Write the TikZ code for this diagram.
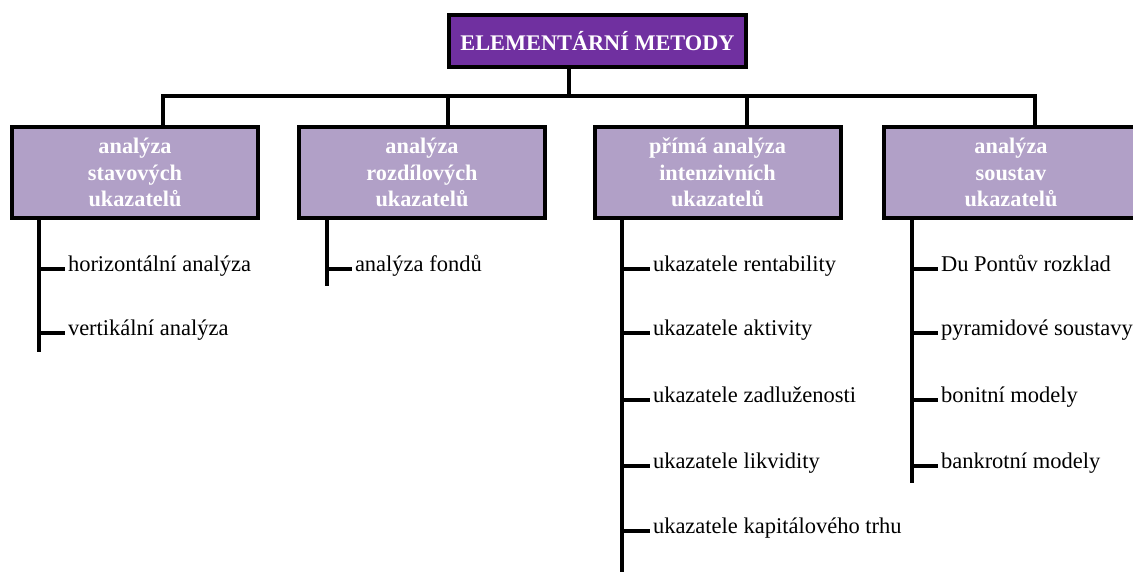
\documentclass[tikz,border=0pt]{standalone}
\usepackage{fontspec}
\setmainfont{Liberation Serif}
\definecolor{topfill}{HTML}{7030A0}
\definecolor{boxfill}{HTML}{B1A0C7}
\begin{document}
\begin{tikzpicture}[x=1pt,y=-1pt,
  wire/.style={line width=4pt},
  headbox/.style={draw, line width=4pt, fill=topfill, text=white, inner sep=0pt,
    font=\bfseries\fontsize{22.3}{26}\selectfont,
    minimum width=297pt, minimum height=52pt},
  groupbox/.style={draw, line width=4pt, fill=boxfill, text=white, inner sep=0pt,
    font=\bfseries\fontsize{22.3}{26.5}\selectfont, align=center,
    minimum width=246pt, minimum height=91pt},
  leaf/.style={anchor=mid west, inner sep=0pt, outer sep=3pt,
    font=\fontsize{22.5}{26}\selectfont}]
\path[use as bounding box] (0,0) rectangle (1133,572);
\clip (0,0) rectangle (1133,572);

% root and the four groups
\node[headbox] (top) at (597.5,41) {ELEMENTÁRNÍ METODY};
\node[groupbox] (b1) at (135,172.5) {analýza\\stavových\\ukazatelů};
\node[groupbox] (b2) at (422,172.5) {analýza\\rozdílových\\ukazatelů};
\node[groupbox] (b3) at (717.5,172.5) {přímá analýza\\intenzivních\\ukazatelů};
\node[groupbox, minimum width=254pt] (b4) at (1011,172.5) {analýza\\soustav\\ukazatelů};

% bus from the root to the groups
\coordinate (bus) at (569,96);
\coordinate (j1) at (163,96);
\coordinate (j2) at (448,96);
\coordinate (j3) at (747,96);
\coordinate (j4) at (1035,96);
\draw[wire] (bus |- top.south) -- (bus);
\draw[wire] (j1 |- b1.north) -- (j1) -- (j4) -- (j4 |- b4.north);
\draw[wire] (j2) -- (j2 |- b2.north);
\draw[wire] (j3) -- (j3 |- b3.north);

% leaves of the first group
\coordinate (e1) at (39,352);
\node[leaf] (l11) at (65,269) {horizontální analýza};
\node[leaf] (l12) at (65,333) {vertikální analýza};
\draw[wire] (e1 |- b1.south) -- (e1);
\foreach \n in {l11,l12} \draw[wire] (e1 |- \n.mid west) -- (\n.mid west);

% leaves of the second group
\coordinate (e2) at (327,286);
\node[leaf] (l21) at (352,269) {analýza fondů};
\draw[wire] (e2 |- b2.south) -- (e2);
\draw[wire] (e2 |- l21.mid west) -- (l21.mid west);

% leaves of the third group
\coordinate (e3) at (622,575);
\node[leaf] (l31) at (650,269) {ukazatele rentability};
\node[leaf] (l32) at (650,333) {ukazatele aktivity};
\node[leaf] (l33) at (650,400) {ukazatele zadluženosti};
\node[leaf] (l34) at (650,466) {ukazatele likvidity};
\node[leaf] (l35) at (650,531) {ukazatele kapitálového trhu};
\draw[wire] (e3 |- b3.south) -- (e3);
\foreach \n in {l31,l32,l33,l34,l35} \draw[wire] (e3 |- \n.mid west) -- (\n.mid west);

% leaves of the fourth group
\coordinate (e4) at (912,483);
\node[leaf] (l41) at (938,269) {Du Pontův rozklad};
\node[leaf] (l42) at (938,333) {pyramidové soustavy};
\node[leaf] (l43) at (938,400) {bonitní modely};
\node[leaf] (l44) at (938,466) {bankrotní modely};
\draw[wire] (e4 |- b4.south) -- (e4);
\foreach \n in {l41,l42,l43,l44} \draw[wire] (e4 |- \n.mid west) -- (\n.mid west);
\end{tikzpicture}
\end{document}
